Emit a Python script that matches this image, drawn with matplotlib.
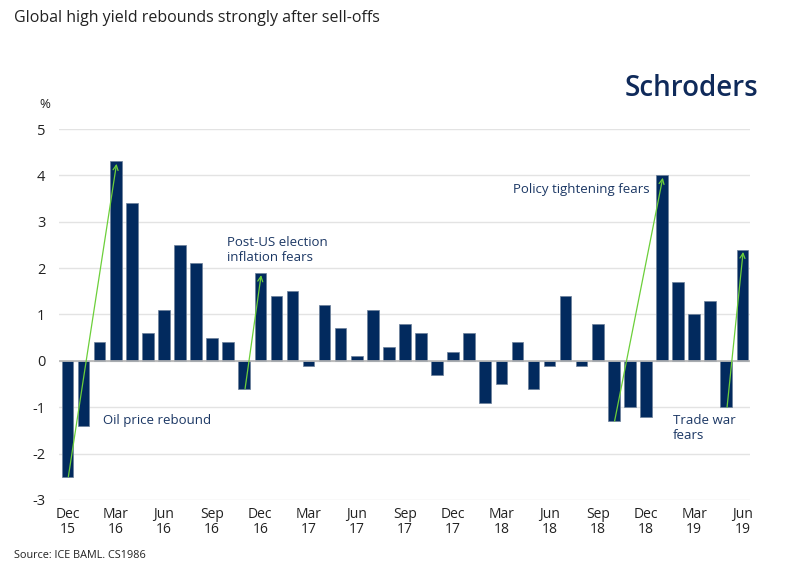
import matplotlib.pyplot as plt

# monthly returns, Dec 15 .. Jun 19 (%)
months = ['Dec 15', 'Jan 16', 'Feb 16', 'Mar 16', 'Apr 16', 'May 16', 'Jun 16', 'Jul 16',
          'Aug 16', 'Sep 16', 'Oct 16', 'Nov 16', 'Dec 16', 'Jan 17', 'Feb 17', 'Mar 17',
          'Apr 17', 'May 17', 'Jun 17', 'Jul 17', 'Aug 17', 'Sep 17', 'Oct 17', 'Nov 17',
          'Dec 17', 'Jan 18', 'Feb 18', 'Mar 18', 'Apr 18', 'May 18', 'Jun 18', 'Jul 18',
          'Aug 18', 'Sep 18', 'Oct 18', 'Nov 18', 'Dec 18', 'Jan 19', 'Feb 19', 'Mar 19',
          'Apr 19', 'May 19', 'Jun 19']
returns = [-2.5, -1.4, 0.4, 4.3, 3.4, 0.6, 1.1, 2.5,
           2.1, 0.5, 0.4, -0.6, 1.9, 1.4, 1.5, -0.1,
           1.2, 0.7, 0.1, 1.1, 0.3, 0.8, 0.6, -0.3,
           0.2, 0.6, -0.9, -0.5, 0.4, -0.6, -0.1, 1.4,
           -0.1, 0.8, -1.3, -1.0, -1.2, 4.0, 1.7, 1.0,
           1.3, -1.0, 2.4]

# sell-off month -> rebound month
rebounds = [('Dec 15', 'Mar 16'), ('Nov 16', 'Dec 16'),
            ('Oct 18', 'Jan 19'), ('May 19', 'Jun 19')]

tick_months = months[::3]
tick_labels = [m.replace(' ', '\n') for m in tick_months]
yticks = [-3, -2, -1, 0, 1, 2, 3, 4, 5]

navy = '#022a5e'
text_navy = '#1b3764'
green = '#6ccf3a'

plt.rcParams['font.family'] = ['Open Sans', 'DejaVu Sans']

fig = plt.figure(figsize=(8.02, 5.76), dpi=100)
ax = fig.add_axes([0.074, 0.132, 0.861, 0.644])

x = list(range(len(months)))
ax.bar(x, returns, width=0.72, color=navy, edgecolor='#6b7f99', linewidth=0.5, zorder=3)

for a, b in rebounds:
    i, j = months.index(a), months.index(b)
    ax.annotate('', xy=(j + 0.05, returns[j] - 0.05), xytext=(i + 0.05, returns[i]),
                arrowprops=dict(arrowstyle='->', color=green, lw=0.9,
                                shrinkA=0, shrinkB=0, mutation_scale=9),
                zorder=5)

ax.set_xlim(-0.51, 42.47)
ax.set_ylim(-3, 5)
ax.set_yticks(yticks)
ax.set_yticklabels([str(v) for v in yticks], fontsize=10.5)
ax.set_xticks([months.index(m) for m in tick_months])
ax.set_xticklabels(tick_labels, linespacing=1.0, fontsize=10)
ax.tick_params(axis='both', length=0, colors='#222222')
ax.tick_params(axis='y', pad=10)
ax.tick_params(axis='x', pad=5)
ax.grid(axis='y', color='#e3e3e3', linewidth=1, zorder=0)
ax.axhline(0, color='#b5b5b5', linewidth=1.2, zorder=4)
for s in ax.spines.values():
    s.set_visible(False)

ax.text(2.2, -1.29, 'Oil price rebound', color=text_navy, fontsize=9.5, va='center')
ax.text(9.93, 2.39, 'Post-US election\ninflation fears', color=text_navy, fontsize=9.5,
        va='center', linespacing=1.15)
ax.text(27.7, 3.69, 'Policy tightening fears', color=text_navy, fontsize=9.5, va='center')
ax.text(37.7, -1.45, 'Trade war\nfears', color=text_navy, fontsize=9.5, va='center',
        linespacing=1.15)

fig.text(0.056, 1 - 104 / 576, '%', fontsize=9.5, color='#222222',
         ha='center', va='center')
fig.text(14 / 802, 1 - 18 / 576, 'Global high yield rebounds strongly after sell-offs',
         fontsize=11.5, color='#222222', va='center')
fig.text(758 / 802, 1 - 88 / 576, 'Schroders', fontsize=20, fontweight='semibold',
         color='#0f2a5a', ha='right', va='center')
fig.text(14 / 802, 1 - 556 / 576, 'Source: ICE BAML. CS1986', fontsize=7.8,
         color='#222222', va='center')

fig.savefig('out.png', dpi=100)
